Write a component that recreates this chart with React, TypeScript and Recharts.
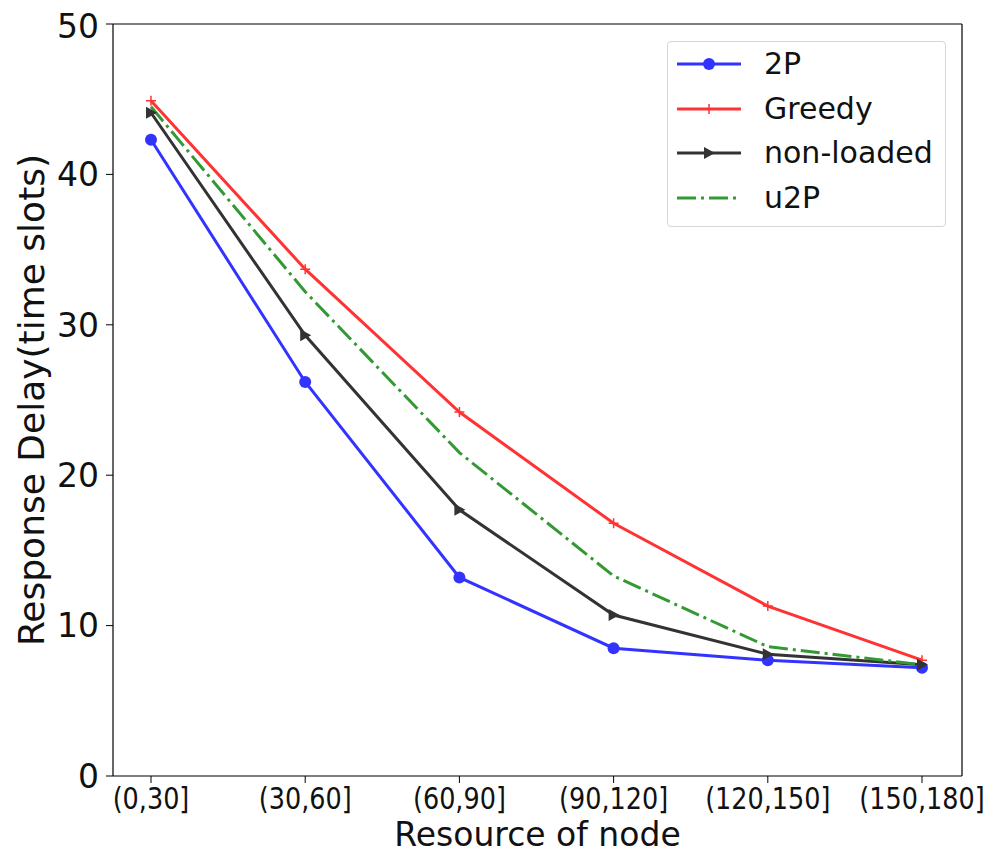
import React from 'react';
import { LineChart, Line, XAxis, YAxis } from 'recharts';

const categories = ['(0,30]', '(30,60]', '(60,90]', '(90,120]', '(120,150]', '(150,180]'];
const twoP = [42.3, 26.2, 13.2, 8.5, 7.7, 7.2];
const greedy = [44.9, 33.7, 24.2, 16.8, 11.3, 7.7];
const nonLoaded = [44.1, 29.3, 17.7, 10.7, 8.1, 7.4];
const u2P = [44.5, 32.2, 21.5, 13.3, 8.6, 7.4];
const yTicks = [0, 10, 20, 30, 40, 50];

const BLUE = 'rgb(51,51,255)';
const RED = 'rgb(255,51,51)';
const BLACK = 'rgb(51,51,51)';
const GREEN = 'rgb(51,153,51)';
const FONT = '"DejaVu Sans", sans-serif';
const DASHDOT = '19 5 3 5';

const data = categories.map((name, i) => ({
  name,
  twoP: twoP[i],
  greedy: greedy[i],
  nonLoaded: nonLoaded[i],
  u2P: u2P[i],
}));

function CircleDot(props: any) {
  const { cx, cy } = props;
  if (cx == null || cy == null) return null;
  return <circle cx={cx} cy={cy} r={6} fill={BLUE} stroke="none" />;
}

function PlusDot(props: any) {
  const { cx, cy } = props;
  if (cx == null || cy == null) return null;
  return (
    <path
      d={`M${cx - 5},${cy}H${cx + 5}M${cx},${cy - 5}V${cy + 5}`}
      stroke={RED}
      strokeWidth={1.5}
      fill="none"
    />
  );
}

function TriDot(props: any) {
  const { cx, cy } = props;
  if (cx == null || cy == null) return null;
  return (
    <polygon
      points={`${cx + 6},${cy} ${cx - 5},${cy - 6} ${cx - 5},${cy + 6}`}
      fill={BLACK}
      stroke="none"
    />
  );
}

// matplotlib squeezed these labels horizontally
function XTick(props: any) {
  const { x, y, payload } = props;
  return (
    <g transform={`translate(${x},${y}) scale(0.85,1)`}>
      <text x={0} y={0} dy={24} textAnchor="middle" fill="#111" fontSize={30} fontFamily={FONT}>
        {payload.value}
      </text>
    </g>
  );
}

const legendItems = [
  { label: '2P', color: BLUE, kind: 'circle' },
  { label: 'Greedy', color: RED, kind: 'plus' },
  { label: 'non-loaded', color: BLACK, kind: 'tri' },
  { label: 'u2P', color: GREEN, kind: 'dash' },
];

function LegendBox() {
  return (
    <div
      style={{
        position: 'absolute',
        left: 659,
        top: 33,
        width: 279,
        height: 186,
        border: '1px solid #d6d6d6',
        borderRadius: 4,
        background: 'white',
        boxSizing: 'border-box',
        fontFamily: FONT,
        fontSize: 30,
      }}
    >
      {legendItems.map((it) => (
        <div key={it.label} style={{ display: 'flex', alignItems: 'center', height: 44.5 }}>
          <svg width={96} height={30} style={{ flex: 'none' }}>
            <line
              x1={9}
              x2={73}
              y1={15}
              y2={15}
              stroke={it.color}
              strokeWidth={3}
              strokeDasharray={it.kind === 'dash' ? DASHDOT : undefined}
            />
            {it.kind === 'circle' && <circle cx={41} cy={15} r={6} fill={it.color} />}
            {it.kind === 'plus' && (
              <path d="M36,15H46M41,10V20" stroke={it.color} strokeWidth={1.5} />
            )}
            {it.kind === 'tri' && <polygon points="47,15 36,9 36,21" fill={it.color} />}
          </svg>
          <span style={{ color: '#111', lineHeight: 1 }}>{it.label}</span>
        </div>
      ))}
    </div>
  );
}

export default function App() {
  return (
    <div style={{ position: 'relative', width: 986, height: 845 }}>
      <LineChart
        width={986}
        height={845}
        data={data}
        margin={{ top: 15, right: 31, bottom: 0, left: 25 }}
      >
        <XAxis
          dataKey="name"
          padding={{ left: 38, right: 40 }}
          tickSize={7}
          tickLine={{ stroke: '#000' }}
          axisLine={{ stroke: '#000', strokeWidth: 1.2 }}
          height={77}
          interval={0}
          tick={<XTick />}
          label={{
            value: 'Resource of node',
            position: 'insideBottom',
            offset: 7,
            fill: '#111',
            fontSize: 33,
            fontFamily: FONT,
          }}
        />
        <XAxis
          xAxisId="top"
          dataKey="name"
          orientation="top"
          height={1}
          tick={false}
          tickLine={false}
          axisLine={{ stroke: '#000', strokeWidth: 1.2 }}
        />
        <YAxis
          domain={[0, 50]}
          ticks={yTicks}
          width={80}
          tickSize={7}
          tickMargin={7}
          tickLine={{ stroke: '#000' }}
          axisLine={{ stroke: '#000', strokeWidth: 1.2 }}
          tick={{ fill: '#111', fontSize: 33, fontFamily: FONT }}
          label={{
            value: 'Response Delay(time slots)',
            angle: -90,
            position: 'insideLeft',
            offset: -2,
            style: { textAnchor: 'middle' },
            fill: '#111',
            fontSize: 36,
            fontFamily: FONT,
          }}
        />
        <YAxis
          yAxisId="right"
          orientation="right"
          width={1}
          domain={[0, 50]}
          tick={false}
          tickLine={false}
          axisLine={{ stroke: '#000', strokeWidth: 1.2 }}
        />
        <Line
          dataKey="twoP"
          name="2P"
          stroke={BLUE}
          strokeWidth={3}
          dot={<CircleDot />}
          activeDot={false}
          isAnimationActive={false}
        />
        <Line
          dataKey="greedy"
          name="Greedy"
          stroke={RED}
          strokeWidth={3}
          dot={<PlusDot />}
          activeDot={false}
          isAnimationActive={false}
        />
        <Line
          dataKey="nonLoaded"
          name="non-loaded"
          stroke={BLACK}
          strokeWidth={3}
          dot={<TriDot />}
          activeDot={false}
          isAnimationActive={false}
        />
        <Line
          dataKey="u2P"
          name="u2P"
          stroke={GREEN}
          strokeWidth={3}
          strokeDasharray={DASHDOT}
          dot={false}
          activeDot={false}
          isAnimationActive={false}
        />
      </LineChart>
      <LegendBox />
    </div>
  );
}
